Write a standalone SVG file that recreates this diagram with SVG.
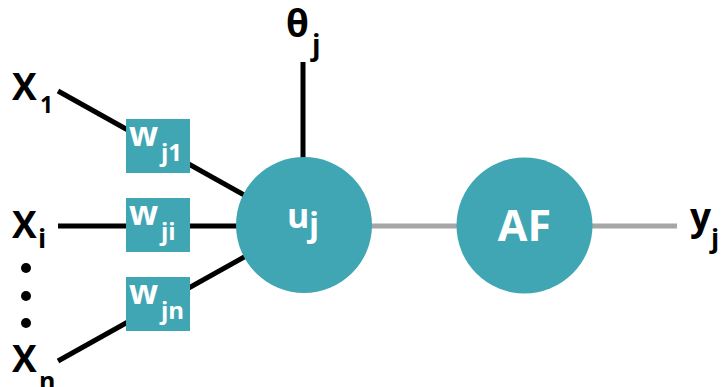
<svg xmlns="http://www.w3.org/2000/svg" width="722" height="387" viewBox="0 0 722 387">
<style>
.ln{stroke:#000;stroke-width:5;fill:none}
.gl{stroke:#A6A6A6;stroke-width:5;fill:none}
.node{fill:#41A6B3}
.bt{font-family:"Open Sans","Liberation Sans",sans-serif;font-weight:700;fill:#000}
.wt{font-family:"Open Sans","Liberation Sans",sans-serif;font-weight:700;fill:#fff}
</style>
<rect width="722" height="387" fill="#fff"/>
<g id="connectors">
<line class="ln" x1="58" y1="91" x2="280" y2="215"/>
<line class="ln" x1="58" y1="226" x2="280" y2="226"/>
<line class="ln" x1="58" y1="361" x2="280" y2="237"/>
<line class="ln" x1="303" y1="62" x2="303" y2="170"/>
<line class="gl" x1="370" y1="226" x2="677" y2="226"/>
</g>
<g id="x1"><text class="bt" x="12" y="100" font-size="37">X</text><text class="bt" x="40" y="113" font-size="23">1</text></g>
<g id="xi"><text class="bt" x="12" y="238" font-size="37">X</text><text class="bt" x="38" y="248" font-size="27">i</text></g>
<g id="dots"><circle cx="26" cy="268" r="5"/><circle cx="26" cy="296" r="5"/><circle cx="26" cy="323" r="5"/></g>
<g id="xn"><text class="bt" x="12" y="372" font-size="37">X</text><text class="bt" x="39" y="390" font-size="25">n</text></g>
<g id="theta"><text class="bt" x="286" y="37" font-size="37">θ</text><text class="bt" x="312" y="55" font-size="28">j</text></g>
<g id="wj1"><rect class="node" x="126" y="119" width="64" height="54"/><text class="wt" x="129" y="146" font-size="34">w</text><text class="wt" x="161" y="161" font-size="24">j1</text></g>
<g id="wji"><rect class="node" x="126" y="198" width="64" height="54"/><text class="wt" x="129" y="225" font-size="34">w</text><text class="wt" x="161" y="240" font-size="24">ji</text></g>
<g id="wjn"><rect class="node" x="126" y="277" width="64" height="54"/><text class="wt" x="129" y="304" font-size="34">w</text><text class="wt" x="161" y="319" font-size="24">jn</text></g>
<g id="uj"><circle class="node" cx="304" cy="225" r="68"/><text class="wt" x="287" y="228" font-size="34">u</text><text class="wt" x="309" y="236" font-size="33">j</text></g>
<g id="af"><circle class="node" cx="524.5" cy="225.5" r="68"/><text class="wt" x="524.5" y="241" font-size="43" text-anchor="middle">AF</text></g>
<g id="yj"><text class="bt" x="690" y="230" font-size="37">y</text><text class="bt" x="711" y="248" font-size="27">j</text></g>
</svg>
